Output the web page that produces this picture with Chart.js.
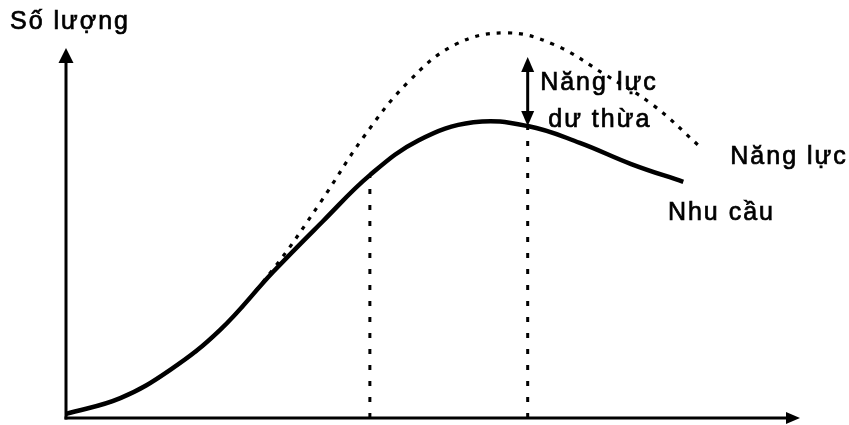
<!DOCTYPE html>
<html><head><meta charset="utf-8">
<script src="https://cdn.jsdelivr.net/npm/chart.js@4"></script>
<style>html,body{margin:0;padding:0;background:#fff}#wrap{width:849px;height:425px}</style>
</head><body><div id="wrap"><canvas id="c"></canvas></div>
<script>
// Demand curve (Nhu cầu)
const demandX = [0, 7.4, 14.2, 21.0, 28.2, 35.0, 41.4, 48.0, 55.5, 62.9, 70.0, 77.0, 84.1];
const demandY = [1.2, 5.9, 14.3, 26.2, 43.4, 58.5, 72.2, 82.5, 87.9, 86.8, 81.8, 75.5, 70.2];
// Capacity curve (Năng lực)
const capacityX = [0, 7.4, 14.2, 21.0, 28.2, 34.6, 40.5, 46.5, 53.0, 60.0, 66.5, 73.5, 80.0, 86.4];
const capacityY = [1.2, 5.9, 14.3, 26.2, 44.2, 63.9, 83.4, 99.6, 111.0, 114.5, 111.0, 102.0, 93.0, 80.6];
// Vertical reference lines (x position, top value)
const markerX = [41.4, 62.9];
const markerTop = [72.2, 86.8];
// Excess capacity arrow
const excessX = 62.9;
const excessRange = [86.8, 107.3];
// Labels
const axisTitle = "Số lượng";
const capacityLabel = "Năng lực";
const demandLabel = "Nhu cầu";
const excessLabel = ["Năng lực", "dư thừa"];

const pts = (xs, ys) => xs.map((x, i) => ({x, y: ys[i]}));
const FONT = '25px "Liberation Sans", Arial, sans-serif';

function arrowHead(ctx, x, y, dir, w, h) {
  ctx.beginPath();
  if (dir === 'up') { ctx.moveTo(x, y); ctx.lineTo(x - w/2, y + h); ctx.lineTo(x + w/2, y + h); }
  else if (dir === 'down') { ctx.moveTo(x, y); ctx.lineTo(x - w/2, y - h); ctx.lineTo(x + w/2, y - h); }
  else { ctx.moveTo(x, y); ctx.lineTo(x - h, y - w/2); ctx.lineTo(x - h, y + w/2); }
  ctx.closePath(); ctx.fill();
}

function label(ctx, t, x, y) {
  ctx.fillText(t, x, y);
  ctx.strokeText(t, x, y);
}

const overlay = {
  id: 'overlay',
  beforeDatasetsDraw(chart) {
    const {ctx, scales: {x, y}} = chart;
    const x0 = x.getPixelForValue(0), y0 = y.getPixelForValue(0);
    const yTop = y.getPixelForValue(y.max), xEnd = x.getPixelForValue(x.max);
    ctx.save();
    ctx.strokeStyle = '#000'; ctx.fillStyle = '#000'; ctx.lineWidth = 3;
    ctx.beginPath(); ctx.moveTo(x0, y0 + 1.5); ctx.lineTo(x0, yTop + 10); ctx.stroke();
    arrowHead(ctx, x0, yTop, 'up', 15, 15);
    ctx.beginPath(); ctx.moveTo(x0 - 1.5, y0); ctx.lineTo(xEnd - 10, y0); ctx.stroke();
    arrowHead(ctx, xEnd, y0, 'right', 12, 14);
    ctx.restore();
  },
  afterDatasetsDraw(chart) {
    const {ctx, scales: {x, y}} = chart;
    ctx.save();
    ctx.fillStyle = '#000'; ctx.strokeStyle = '#000';
    const ax = x.getPixelForValue(excessX);
    const yl = y.getPixelForValue(excessRange[0]), yh = y.getPixelForValue(excessRange[1]);
    ctx.lineWidth = 3;
    ctx.beginPath(); ctx.moveTo(ax, yl - 10); ctx.lineTo(ax, yh + 10); ctx.stroke();
    arrowHead(ctx, ax, yh, 'up', 13, 15);
    arrowHead(ctx, ax, yl, 'down', 13, 15);
    ctx.font = FONT; ctx.textBaseline = 'middle'; ctx.textAlign = 'left';
    ctx.lineWidth = 0.7;
    try { ctx.letterSpacing = '2px'; } catch (e) {}
    label(ctx, axisTitle, 10, 22);
    label(ctx, capacityLabel, x.getPixelForValue(90.5), y.getPixelForValue(77.6));
    label(ctx, demandLabel, x.getPixelForValue(82.0), y.getPixelForValue(61.0));
    label(ctx, excessLabel[0], x.getPixelForValue(64.6), y.getPixelForValue(99.6));
    label(ctx, excessLabel[1], x.getPixelForValue(65.7), y.getPixelForValue(88.6));
    ctx.restore();
  }
};

const markerSets = markerX.map((mx, i) => ({
  data: [{x: mx, y: 0}, {x: mx, y: markerTop[i]}],
  showLine: true, borderColor: '#000', borderWidth: 3, borderDash: [5, 11], borderCapStyle: 'butt',
  pointRadius: 0, tension: 0, clip: false
}));

new Chart(document.getElementById('c'), {
  type: 'scatter',
  data: {
    datasets: [
      ...markerSets,
      { label: capacityLabel, data: pts(capacityX, capacityY), showLine: true, borderColor: '#000',
        borderWidth: 3.2, borderDash: [4, 7], borderCapStyle: 'butt', pointRadius: 0,
        tension: 0.4, clip: false },
      { label: demandLabel, data: pts(demandX, demandY), showLine: true, borderColor: '#000',
        borderWidth: 4.5, pointRadius: 0, tension: 0.4, clip: false }
    ]
  },
  options: {
    responsive: true, maintainAspectRatio: false, animation: false,
    layout: {padding: {left: 66, right: 49, top: 48, bottom: 7}},
    plugins: {legend: {display: false}, tooltip: {enabled: false}},
    scales: {
      x: {type: 'linear', min: 0, max: 100, display: false},
      y: {type: 'linear', min: 0, max: 110, display: false}
    }
  },
  plugins: [overlay]
});
</script></body></html>
